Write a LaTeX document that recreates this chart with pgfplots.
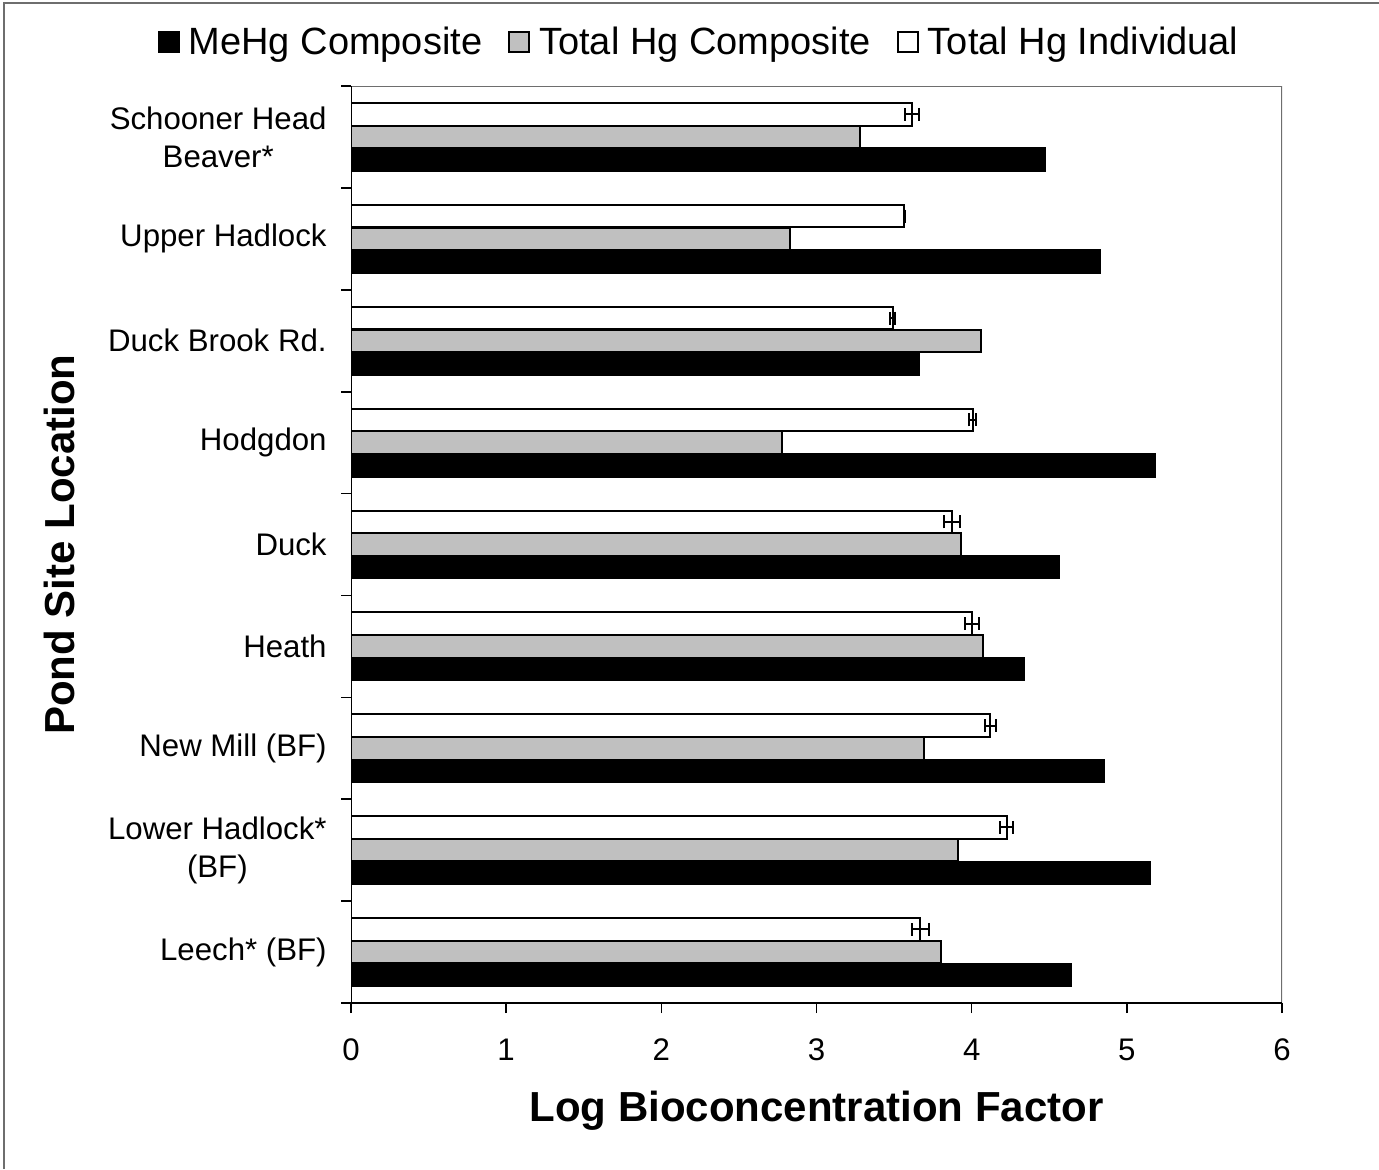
\documentclass[border=0pt]{standalone}
\usepackage{fontspec}
\setmainfont{Liberation Sans}
\usepackage{pgfplots}
\pgfplotsset{compat=1.18}

\definecolor{silverbar}{RGB}{192,192,192}
\definecolor{framegray}{RGB}{110,110,110}

\begin{document}
\begin{tikzpicture}
\begin{axis}[
  at={(175.5pt,-501.5pt)}, anchor=south west,
  scale only axis, width=465.5pt, height=458.5pt,
  xbar, bar width=11.25pt,
  xmin=0, xmax=6, ymin=-0.5, ymax=8.5,
  xtick={0,1,...,6},
  ytick={0,1,...,8},
  yticklabels={Leech* (BF), {Lower Hadlock*\\(BF)}, New Mill (BF), Heath, Duck,
               Hodgdon, Duck Brook Rd., Upper Hadlock, {Schooner Head\\Beaver*}},
  minor ytick={-0.5,0.5,...,8.5},
  tick pos=left, tick align=outside,
  major tick length=5pt, minor tick length=5pt,
  every major y tick/.style={draw=none},
  every tick/.style={black, line width=0.8pt},
  axis line style={draw=none},
  /pgf/number format/assume math mode=true,
  tick label style={font=\fontsize{15.6}{19}\selectfont},
  yticklabel style={align=center, anchor=east, inner sep=0pt, xshift=-7pt},
  xticklabel style={anchor=base, inner sep=0pt, yshift=-23.5pt},
  xlabel={\textbf{Log Bioconcentration Factor}},
  ylabel={\textbf{Pond Site Location}},
  label style={font=\fontsize{21}{25}\selectfont},
  xlabel style={at={(axis description cs:0.5,-0.117)}, anchor=center},
  ylabel style={at={(axis description cs:-0.3126,0.5)}, anchor=center},
  legend columns=3,
  legend style={draw=none, fill=none, at={(axis description cs:0.3749,1.048)},
    anchor=center, font=\fontsize{19}{22}\selectfont,
    /tikz/every even column/.append style={column sep=11pt},
    inner sep=0pt},
  legend image code/.code={\draw[#1] (0pt,-5pt) rectangle (10pt,5pt);
                           \path (12.5pt,0pt);},
]
% MeHg composite samples
\addplot[fill=black, draw=black, line width=1pt, bar shift=-11.35pt]
  coordinates {(4.64,0) (5.15,1) (4.85,2) (4.34,3) (4.56,4)
               (5.18,5) (3.66,6) (4.83,7) (4.47,8)};
% Total Hg composite samples
\addplot[fill=silverbar, draw=black, line width=1pt, bar shift=0pt]
  coordinates {(3.80,0) (3.91,1) (3.69,2) (4.07,3) (3.93,4)
               (2.78,5) (4.06,6) (2.83,7) (3.28,8)};
% Total Hg individual samples, mean +- standard error
\addplot[fill=white, draw=black, line width=1pt, bar shift=11.35pt,
  error bars/.cd, x dir=both, x explicit, error mark=|,
  error bar style={line width=1pt, black},
  error mark options={line width=1pt, mark size=3.25pt, black}]
  coordinates {(3.670,0) +- (0.053,0) (4.225,1) +- (0.041,0)
               (4.120,2) +- (0.035,0) (4.003,3) +- (0.047,0)
               (3.875,4) +- (0.051,0) (4.006,5) +- (0.025,0)
               (3.490,6) +- (0.018,0) (3.566,7) +- (0.005,0)
               (3.616,8) +- (0.047,0)};
\legend{MeHg Composite, Total Hg Composite, Total Hg Individual}
% plot area border
\draw[framegray, line width=1pt] (rel axis cs:0,1) -- (rel axis cs:1,1) -- (rel axis cs:1,0);
\draw[black, line width=1pt] (rel axis cs:0,1) -- (rel axis cs:0,0) -- (rel axis cs:1,0);
\end{axis}
% chart area border
\draw[framegray, line width=1pt] (1.75pt,-584.5pt) -- (1.75pt,-1.5pt) -- (689.5pt,-1.5pt);
\pgfresetboundingbox
\path[use as bounding box] (0pt,0pt) rectangle (689.5pt,-584.5pt);
\end{tikzpicture}
\end{document}
